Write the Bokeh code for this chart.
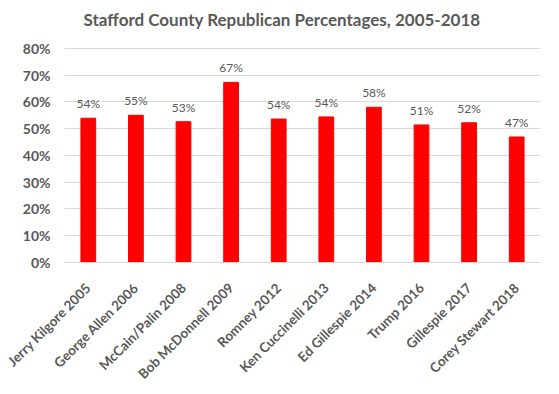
from bokeh.plotting import figure
from bokeh.models import ColumnDataSource, FixedTicker, PrintfTickFormatter, LabelSet, Label, Range1d, FactorRange
from bokeh.core.properties import value
from bokeh.embed import file_html
from bokeh.resources import INLINE
import math

title_text = "Stafford County Republican Percentages, 2005-2018"
categories = ["Jerry Kilgore 2005", "George Allen 2006", "McCain/Palin 2008",
              "Bob McDonnell 2009", "Romney 2012", "Ken Cuccinelli 2013",
              "Ed Gillespie 2014", "Trump 2016", "Gillespie 2017", "Corey Stewart 2018"]
percentages = [53.9, 55.0, 52.6, 67.3, 53.6, 54.4, 58.0, 51.4, 52.2, 46.9]
y_ticks = [0, 10, 20, 30, 40, 50, 60, 70, 80]

labels = [f"{round(v)}%" for v in percentages]
src = ColumnDataSource(dict(cat=categories, val=percentages, lab=labels))

TEXT = "#595959"
FONT = "Lato"

# the frame extends above 80% to leave room for the chart title inside it
p = figure(width=543, height=390, x_range=FactorRange(factors=categories, range_padding=0),
           y_range=Range1d(0, 97.9), output_backend="svg", toolbar_location=None)
p.min_border_left = 64
p.min_border_right = 3
p.min_border_top = 0
p.min_border_bottom = 110
p.outline_line_color = None
p.background_fill_color = "white"
p.border_fill_color = "white"

p.vbar(x="cat", top="val", width=0.31, source=src, color="#FF0000")

p.yaxis.ticker = FixedTicker(ticks=y_ticks)
p.yaxis.formatter = PrintfTickFormatter(format="%d%%")
p.yaxis.axis_line_color = None
p.yaxis.major_tick_line_color = None
p.yaxis.minor_tick_line_color = None
p.yaxis.major_tick_out = 0
p.yaxis.major_tick_in = 0
p.yaxis.major_label_text_font = FONT
p.yaxis.major_label_text_font_size = "14px"
p.yaxis.major_label_text_font_style = "bold"
p.yaxis.major_label_text_color = TEXT
p.yaxis.major_label_standoff = 14

p.xaxis.axis_line_color = "#d9d9d9"
p.xaxis.major_tick_line_color = None
p.xaxis.major_tick_out = 0
p.xaxis.major_tick_in = 0
p.xaxis.major_label_orientation = math.pi / 4
p.xaxis.major_label_text_font = FONT
p.xaxis.major_label_text_font_size = "13.5px"
p.xaxis.major_label_text_font_style = "bold"
p.xaxis.major_label_text_color = TEXT
p.xaxis.major_label_standoff = 23

p.xgrid.grid_line_color = None
p.ygrid.grid_line_color = "#d9d9d9"
p.ygrid.grid_line_width = 1

ls = LabelSet(x="cat", y="val", text="lab", source=src, text_align="center",
              text_baseline="bottom", y_offset=7, text_font=value(FONT),
              text_font_size=value("12px"), text_color=TEXT)
p.add_layout(ls)

title = Label(x=4.57, y=90.8, text=title_text, text_align="center", text_baseline="middle",
              text_font=FONT, text_font_size="17px", text_font_style="bold",
              text_color=TEXT)
p.add_layout(title)

open("out.html", "w").write(file_html(p, INLINE))
